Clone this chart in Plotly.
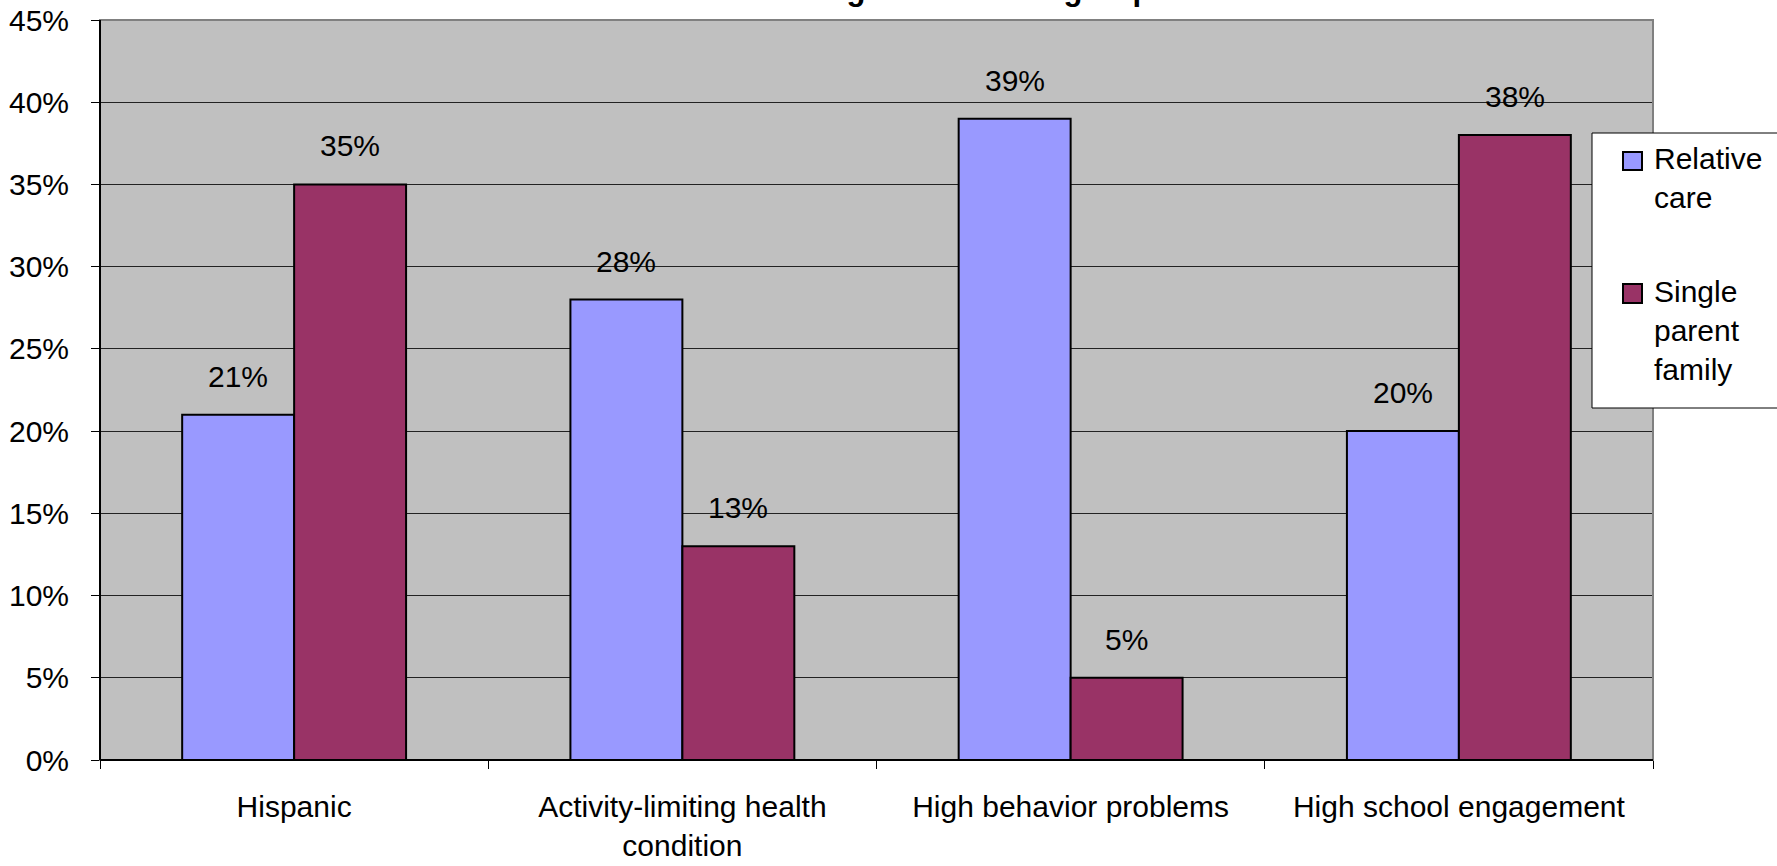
import plotly.graph_objects as go

# Chart data
categories = ["Hispanic", "Activity-limiting health<br>condition",
              "High behavior problems", "High school engagement"]
relative_care = [0.21, 0.28, 0.39, 0.20]
single_parent = [0.35, 0.13, 0.05, 0.38]
series_names = ["Relative<br>care", "Single<br>parent<br>family"]
series_colors = ["#9999FF", "#993366"]
title_text = "Features among the two care groups"

W, H = 1777, 866
L, R, T, B = 100, 1653, 20, 760  # plot-area edges in pixels
FONT = "Liberation Sans, Arial, sans-serif"
BARGAP = 0.4233


def px_x(px):
    return (px - L) / (R - L)


def px_y(py):
    return (B - py) / (B - T)


fig = go.Figure()
for name, vals, col in zip(series_names, [relative_care, single_parent], series_colors):
    fig.add_trace(go.Bar(
        x=categories, y=vals, name=name,
        marker=dict(color=col, line=dict(color="#000000", width=2)),
        showlegend=False,
    ))

# value labels above each bar
bar_w = (1 - BARGAP) / 2
annotations = []
for k, vals in enumerate([relative_care, single_parent]):
    off = (k - 0.5) * bar_w
    for i, v in enumerate(vals):
        annotations.append(dict(
            x=i + off, y=v, xref="x", yref="y", text=f"{v:.0%}",
            showarrow=False, yanchor="bottom", xanchor="center", yshift=20,
            font=dict(family=FONT, size=30, color="#000000"),
        ))

# title, mostly above the visible page
annotations.append(dict(
    x=px_x(897), y=px_y(9), xref="paper", yref="paper", text=f"<b>{title_text}</b>",
    showarrow=False, xanchor="center", yanchor="bottom",
    font=dict(family=FONT, size=31, color="#000000"),
))

# legend entries
legend_tops = [140, 273]
for name, top in zip(series_names, legend_tops):
    annotations.append(dict(
        x=px_x(1652), y=px_y(top), xref="paper", yref="paper", text=name,
        showarrow=False, xanchor="left", yanchor="top", align="left",
        font=dict(family=FONT, size=30, color="#000000"),
    ))

shapes = [
    # plot-area border
    dict(type="rect", xref="paper", yref="paper", x0=0, x1=1, y0=0, y1=1,
         line=dict(color="#808080", width=2), layer="above"),
    # left and bottom axis lines
    dict(type="line", xref="paper", yref="paper", x0=0, x1=0, y0=0, y1=1,
         line=dict(color="#000000", width=2), layer="above"),
    dict(type="line", xref="paper", yref="paper", x0=0, x1=1, y0=0, y1=0,
         line=dict(color="#000000", width=2), layer="above"),
    # legend box
    dict(type="rect", xref="paper", yref="paper", x0=px_x(1592), x1=px_x(1800),
         y0=px_y(408), y1=px_y(133), line=dict(color="#000000", width=1),
         fillcolor="#FFFFFF", layer="above"),
]
for col, (y0, y1) in zip(series_colors, [(152, 170), (284, 303)]):
    shapes.append(dict(type="rect", xref="paper", yref="paper",
                       x0=px_x(1623), x1=px_x(1642), y0=px_y(y1), y1=px_y(y0),
                       line=dict(color="#000000", width=2), fillcolor=col, layer="above"))

fig.update_layout(
    width=W, height=H,
    margin=dict(l=L, r=W - R, t=T, b=H - B, pad=0, autoexpand=False),
    paper_bgcolor="#FFFFFF", plot_bgcolor="#C0C0C0",
    barmode="group", bargap=BARGAP, bargroupgap=0,
    font=dict(family=FONT, size=30, color="#000000"),
    annotations=annotations, shapes=shapes, showlegend=False,
)
fig.update_xaxes(
    type="category", showgrid=False, zeroline=False, automargin=False,
    ticks="outside", tickson="boundaries", ticklen=8, tickcolor="#000000",
    showline=False, ticklabelstandoff=26,
    tickfont=dict(family=FONT, size=30, color="#000000"),
)
fig.update_yaxes(
    range=[0, 0.45], dtick=0.05, tickformat=".0%", automargin=False,
    showgrid=True, gridcolor="#222222", gridwidth=1, zeroline=False,
    ticks="outside", ticklen=8, tickcolor="#000000", showline=False,
    ticklabelstandoff=16,
    tickfont=dict(family=FONT, size=30, color="#000000"),
)

fig.write_html("out.html")
